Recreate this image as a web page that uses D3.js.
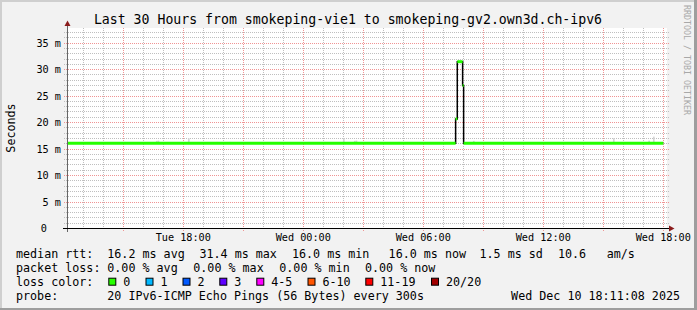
<!DOCTYPE html>
<html lang="en">
<head>
<meta charset="UTF-8">
<title>Last 30 Hours from smokeping-vie1 to smokeping-gv2.own3d.ch-ipv6</title>
<script src="https://d3js.org/d3.v7.min.js"></script>
<style>
  body { margin: 0; background: #fff; }
  svg text { font-family: "DejaVu Sans Mono", monospace; white-space: pre; }
</style>
</head>
<body>
<svg id="chart" width="697" height="310"></svg>
<script>
// ---- data ----
const parseT = d3.timeParse("%Y-%m-%d %H:%M:%S");
const startTime = parseT("2025-12-09 12:11:08");
const endTime = parseT("2025-12-10 18:11:08");

const yTickValues = [0, 5, 10, 15, 20, 25, 30, 35];
const yTickLabels = ["0", "5 m", "10 m", "15 m", "20 m", "25 m", "30 m", "35 m"];

const xTickTimes = ["2025-12-09 18:00:00", "2025-12-10 00:00:00", "2025-12-10 06:00:00",
                    "2025-12-10 12:00:00", "2025-12-10 18:00:00"];
const xTickLabels = ["Tue 18:00", "Wed 00:00", "Wed 06:00", "Wed 12:00", "Wed 18:00"];

// median rtt (ms), step changes
const medianTimes = ["2025-12-09 12:11:08", "2025-12-10 07:37:00", "2025-12-10 07:42:00",
                     "2025-12-10 07:58:00", "2025-12-10 08:01:00", "2025-12-10 18:00:00"];
const medianValues = [16.0, 20.6, 31.4, 26.9, 16.0, 16.0];

// smoke (max ping, ms) where it peeks above the median
const smokeTimes = ["2025-12-09 14:58:00", "2025-12-09 15:03:00", "2025-12-09 16:38:00", "2025-12-09 16:43:00",
                    "2025-12-09 18:14:00", "2025-12-09 19:38:00", "2025-12-09 20:17:00", "2025-12-10 00:14:00",
                    "2025-12-10 01:02:00", "2025-12-10 01:59:00", "2025-12-10 02:32:00", "2025-12-10 02:37:00",
                    "2025-12-10 04:44:00", "2025-12-10 08:29:00", "2025-12-10 15:29:00", "2025-12-10 17:15:00",
                    "2025-12-10 17:29:00"];
const smokeMax = [16.25, 16.25, 16.45, 16.5, 16.95, 16.25, 16.25, 16.25,
                  16.25, 16.95, 16.45, 16.5, 16.25, 16.45, 16.95, 16.5, 17.25];

const lossLabels = ["0", "1", "2", "3", "4-5", "6-10", "11-19", "20/20"];
const lossColors = ["#26ff00", "#00b8ff", "#0059ff", "#5e00ff", "#ff00ff", "#ff5500", "#ff0000", "#a10000"];

const rttStats = ["16.2 ms avg", "31.4 ms max", "16.0 ms min", "16.0 ms now", "1.5 ms sd", "10.6", "am/s"];
const lossStats = ["0.00 % avg", "0.00 % max", "0.00 % min", "0.00 % now"];
const probeText = "20 IPv6-ICMP Echo Pings (56 Bytes) every 300s";
const stampText = "Wed Dec 10 18:11:08 2025";

// ---- layout ----
const W = 697, H = 310;
const plot = { left: 67, right: 667, top: 28, bottom: 228 };
const svg = d3.select("#chart");

const x = d3.scaleTime().domain([startTime, endTime]).range([plot.left, plot.right]);
const y = d3.scaleLinear().domain([0, 37.76]).range([plot.bottom, plot.top]);

// background + frame
svg.append("rect").attr("width", W).attr("height", H).attr("fill", "#f2f2f2");
svg.append("path").attr("d", `M0,0H${W}V2H2V${H}H0Z`).attr("fill", "#cfcfcf");
svg.append("path").attr("d", `M${W},${H}H0V${H - 2}H${W - 3}V0H${W}Z`).attr("fill", "#9e9e9e");
svg.append("rect")
    .attr("x", plot.left).attr("y", plot.top)
    .attr("width", plot.right - plot.left).attr("height", plot.bottom - plot.top)
    .attr("fill", "#fff");

// grid
const grid = svg.append("g").attr("shape-rendering", "crispEdges");
const minorY = d3.range(1, 38).filter(v => v % 5 !== 0);
grid.selectAll(".hmin").data(minorY).enter().append("line")
    .attr("x1", plot.left - 3).attr("x2", plot.right + 2)
    .attr("y1", d => Math.round(y(d)) + 0.5).attr("y2", d => Math.round(y(d)) + 0.5)
    .attr("stroke", "#bfbfbf").attr("stroke-dasharray", "1,1");
const minorX = d3.timeHour.range(startTime, endTime).filter(d => d.getHours() % 3 !== 0);
grid.selectAll(".vmin").data(minorX).enter().append("line")
    .attr("x1", d => Math.round(x(d)) + 0.5).attr("x2", d => Math.round(x(d)) + 0.5)
    .attr("y1", plot.top).attr("y2", plot.bottom + 2)
    .attr("stroke", "#bfbfbf").attr("stroke-dasharray", "1,1");
grid.selectAll(".hmaj").data(yTickValues.slice(1)).enter().append("line")
    .attr("x1", plot.left - 3).attr("x2", plot.right + 2)
    .attr("y1", d => Math.round(y(d)) + 0.5).attr("y2", d => Math.round(y(d)) + 0.5)
    .attr("stroke", "#f09494").attr("stroke-dasharray", "1,1");
const majorX = d3.timeHour.range(startTime, endTime).filter(d => d.getHours() % 3 === 0);
grid.selectAll(".vmaj").data(majorX).enter().append("line")
    .attr("x1", d => Math.round(x(d)) + 0.5).attr("x2", d => Math.round(x(d)) + 0.5)
    .attr("y1", plot.top).attr("y2", plot.bottom + 3)
    .attr("stroke", "#f09494").attr("stroke-dasharray", "1,1");

// smoke
svg.append("g").selectAll("rect").data(smokeTimes).enter().append("rect")
    .attr("x", d => x(parseT(d)))
    .attr("width", d => x(d3.timeMinute.offset(parseT(d), 5)) - x(parseT(d)))
    .attr("y", (d, i) => y(smokeMax[i]))
    .attr("height", (d, i) => y(16.0) - y(smokeMax[i]))
    .attr("fill", "#d4d4d4");

// median: black step line, coloured by loss on the flat parts
const medianPts = medianTimes.map((t, i) => [parseT(t), medianValues[i]]);
svg.append("path")
    .datum(medianPts)
    .attr("d", d3.line().x(d => x(d[0])).y(d => y(d[1])).curve(d3.curveStepAfter))
    .attr("fill", "none").attr("stroke", "#000").attr("stroke-width", 1.5);
svg.append("g").selectAll("line").data(medianPts.slice(0, -1)).enter().append("line")
    .attr("x1", d => x(d[0]))
    .attr("x2", (d, i) => x(medianPts[i + 1][0]))
    .attr("y1", d => y(d[1])).attr("y2", d => y(d[1]))
    .attr("stroke", lossColors[0]).attr("stroke-width", 3);

// axes
const axes = svg.append("g").attr("shape-rendering", "crispEdges");
axes.append("line").attr("x1", plot.left + 0.5).attr("x2", plot.left + 0.5)
    .attr("y1", plot.bottom + 4).attr("y2", plot.top - 5)
    .attr("stroke", "#666");
axes.append("line").attr("x1", plot.left - 4).attr("x2", plot.right + 4)
    .attr("y1", plot.bottom + 0.5).attr("y2", plot.bottom + 0.5)
    .attr("stroke", "#000");
svg.append("path")
    .attr("d", `M${plot.left - 2.5},${plot.top - 2}L${plot.left + 3.5},${plot.top - 2}L${plot.left + 0.5},${plot.top - 7.5}Z`)
    .attr("fill", "#8b1c1c");
svg.append("path")
    .attr("d", `M${plot.right + 2},${plot.bottom - 2.5}L${plot.right + 2},${plot.bottom + 3.5}L${plot.right + 7.5},${plot.bottom + 0.5}Z`)
    .attr("fill", "#8b1c1c");

// tick labels
svg.append("g").selectAll("text").data(yTickValues).enter().append("text")
    .attr("x", (d, i) => i === 0 ? 47 : 61)
    .attr("y", d => y(d) + 4)
    .attr("text-anchor", "end")
    .attr("font-size", 10.2)
    .text((d, i) => yTickLabels[i]);
svg.append("g").selectAll("text").data(xTickTimes).enter().append("text")
    .attr("x", d => x(parseT(d)))
    .attr("y", 241)
    .attr("text-anchor", "middle")
    .attr("font-size", 10.2)
    .text((d, i) => xTickLabels[i]);

// titles
svg.append("text").attr("x", 348).attr("y", 24).attr("text-anchor", "middle")
    .attr("font-size", 13.2).text("Last 30 Hours from smokeping-vie1 to smokeping-gv2.own3d.ch-ipv6");
svg.append("text").attr("transform", "translate(15,128) rotate(-90)").attr("text-anchor", "middle")
    .attr("font-size", 11.7).text("Seconds");
svg.append("text").attr("transform", "translate(683.5,5) rotate(90)")
    .attr("font-size", 8.3).attr("fill", "#a8a8a8").text("RRDTOOL / TOBI OETIKER");

// legend
const leg = svg.append("g").attr("font-size", 11.7);
const rows = [257.7, 271.7, 285.7, 299.7];
leg.append("text").attr("x", 16).attr("y", rows[0]).text("median rtt:");
const rttX = [107.3, 199.5, 292, 388.6, 479.5, 558, 606.7];
rttStats.forEach((s, i) => leg.append("text").attr("x", rttX[i]).attr("y", rows[0]).text(s));
leg.append("text").attr("x", 16).attr("y", rows[1]).text("packet loss:");
const lossX = [107.3, 193.3, 279.3, 365];
lossStats.forEach((s, i) => leg.append("text").attr("x", lossX[i]).attr("y", rows[1]).text(s));
leg.append("text").attr("x", 16).attr("y", rows[2]).text("loss color:");
const boxX = [108.3, 145.5, 182.5, 219.3, 256.3, 307.5, 365.3, 431];
lossLabels.forEach((s, i) => {
  leg.append("rect").attr("x", boxX[i] + 0.5).attr("y", rows[2] - 7.5)
      .attr("width", 7).attr("height", 7)
      .attr("fill", lossColors[i]).attr("stroke", "#000");
  leg.append("text").attr("x", boxX[i] + 15).attr("y", rows[2]).text(s);
});
leg.append("text").attr("x", 16).attr("y", rows[3]).text("probe:");
leg.append("text").attr("x", 107.3).attr("y", rows[3]).text(probeText);
leg.append("text").attr("x", 680).attr("y", rows[3]).attr("text-anchor", "end").text(stampText);
</script>
</body>
</html>
